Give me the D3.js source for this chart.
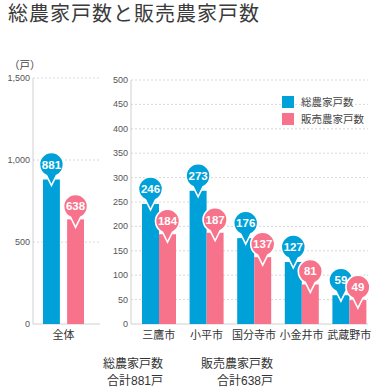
<!DOCTYPE html>
<html lang="ja">
<head>
<meta charset="UTF-8">
<title>総農家戸数と販売農家戸数</title>
<script src="https://d3js.org/d3.v7.min.js"></script>
<style>
    body { margin: 0; background: #fff; }
    svg { display: block; font-family: "Liberation Sans", Arial, "Noto Sans CJK JP", sans-serif; }
    .tick-label { font-size: 9px; fill: #555; }
    .cat-label { font-size: 11px; fill: #333; }
    .grid { stroke: #d8d8d8; stroke-dasharray: 2,2; }
    .axis-line { stroke: #d0d0d0; }
</style>
</head>
<body>
<svg id="chart"></svg>
<script>
// data
const series = ["総農家戸数", "販売農家戸数"];
const colors = ["#00a1d9", "#f7738b"];
const totalCat = ["全体"];
const totalValues = [[881, 638]];
const cities = ["三鷹市", "小平市", "国分寺市", "小金井市", "武蔵野市"];
const farmTotal = [246, 273, 176, 127, 59];
const farmSales = [184, 187, 137, 81, 49];
const leftTicks = [0, 500, 1000, 1500];
const rightTicks = [0, 50, 100, 150, 200, 250, 300, 350, 400, 450, 500];
const summary = [["総農家戸数", "合計881戸"], ["販売農家戸数", "合計638戸"]];

const W = 388, H = 388;
const svg = d3.select("#chart").attr("width", W).attr("height", H);

// title
svg.append("text")
    .attr("x", 8).attr("y", 21)
    .attr("font-size", 20).attr("letter-spacing", 1)
    .attr("fill", "#3a3a3a")
    .text("総農家戸数と販売農家戸数");

svg.append("text")
    .attr("x", 9).attr("y", 69)
    .attr("font-size", 10.5).attr("fill", "#444")
    .text("（戸）");

// bubble shape: circle r=12 with pointer below
const bubblePath = "M -5,10.9 A 12 12 0 1 1 5,10.9 L 0,21 Z";

function drawPanel(cfg) {
    const g = svg.append("g");
    const y = d3.scaleLinear().domain(cfg.domain).range([324, cfg.top]);
    const x = d3.scaleBand().domain(cfg.cats).range(cfg.xRange);
    const xs = d3.scaleBand().domain(series).range(cfg.subRange).paddingInner(cfg.subPad);

    // gridlines + tick labels
    g.selectAll(".grid").data(cfg.ticks.filter(t => t > 0)).join("line")
        .attr("class", "grid")
        .attr("x1", cfg.axisX).attr("x2", cfg.gridEnd)
        .attr("y1", d => y(d)).attr("y2", d => y(d));
    g.selectAll(".tick-label").data(cfg.ticks).join("text")
        .attr("class", "tick-label")
        .attr("x", cfg.axisX - 3).attr("y", d => y(d) + 3)
        .attr("text-anchor", "end")
        .text(d => d3.format(",")(d));

    g.append("line").attr("class", "axis-line")
        .attr("x1", cfg.axisX).attr("x2", cfg.axisX)
        .attr("y1", y(cfg.domain[1])).attr("y2", y(0));
    g.append("line").attr("class", "axis-line")
        .attr("x1", cfg.axisX).attr("x2", cfg.gridEnd)
        .attr("y1", y(0)).attr("y2", y(0));

    const rows = [];
    cfg.cats.forEach((c, i) => {
        series.forEach((s, j) => rows.push({cat: c, s, j, v: cfg.values[j][i]}));
    });

    g.selectAll(".bar").data(rows).join("rect")
        .attr("class", "bar")
        .attr("x", d => x(d.cat) + xs(d.s))
        .attr("y", d => y(d.v))
        .attr("width", xs.bandwidth())
        .attr("height", d => y(0) - y(d.v))
        .attr("fill", d => colors[d.j]);

    series.forEach((s, j) => {
        const b = g.selectAll(".bub" + j).data(rows.filter(r => r.j === j)).join("g")
            .attr("transform", d => `translate(${x(d.cat) + xs(d.s) + xs.bandwidth() / 2},${y(d.v) - (j === 0 ? 15 : 13)})`);
        b.append("path").attr("d", bubblePath)
            .attr("fill", colors[j]).attr("stroke", "#fff").attr("stroke-width", 1.6);
        b.append("text")
            .attr("y", 4).attr("text-anchor", "middle")
            .attr("font-size", 11.5).attr("font-weight", "bold").attr("fill", "#fff")
            .text(d => d.v);
    });

    g.selectAll(".cat-label").data(cfg.cats).join("text")
        .attr("class", "cat-label")
        .attr("x", d => x(d) + x.bandwidth() / 2)
        .attr("y", 339)
        .attr("text-anchor", "middle")
        .text(d => d);
}

drawPanel({
    cats: totalCat, values: [totalValues.map(v => v[0]), totalValues.map(v => v[1])],
    domain: [0, 1500], ticks: leftTicks, top: 78,
    axisX: 33, gridEnd: 100, xRange: [33, 94], subRange: [10, 51], subPad: 0.3
});

drawPanel({
    cats: cities, values: [farmTotal, farmSales],
    domain: [0, 500], ticks: rightTicks, top: 80,
    axisX: 131, gridEnd: 368, xRange: [135, 373], subRange: [7, 41], subPad: 0
});

// legend
const lg = svg.append("g").attr("transform", "translate(282,96)");
series.forEach((s, j) => {
    lg.append("rect").attr("x", 0).attr("y", j * 17).attr("width", 12).attr("height", 12).attr("fill", colors[j]);
    lg.append("text").attr("x", 19).attr("y", j * 17 + 10)
        .attr("font-size", 10.5).attr("fill", "#444")
        .text(s);
});

// totals below
const sx = [163, 273];
summary.forEach((lines, i) => {
    lines.forEach((t, k) => {
        svg.append("text")
            .attr("x", sx[i]).attr("y", 368 + k * 17)
            .attr("text-anchor", "end")
            .attr("font-size", 12).attr("fill", "#333")
            .text(t);
    });
});
</script>
</body>
</html>
